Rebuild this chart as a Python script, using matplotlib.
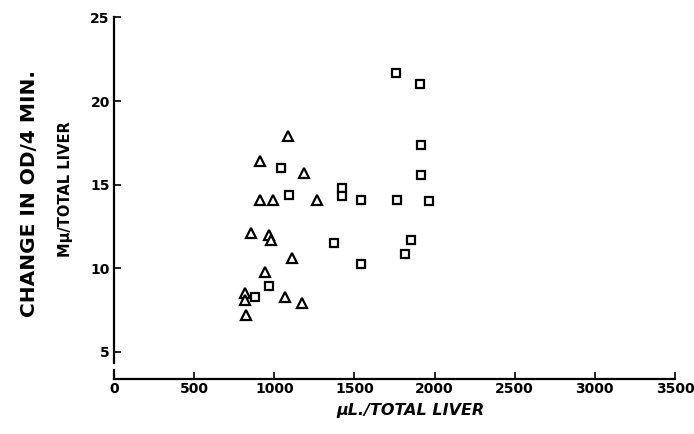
import matplotlib.pyplot as plt
import numpy as np

# triangles
tri_x = [1084, 911, 1188, 911, 990, 1269, 855, 965, 978, 1109, 942, 817, 817, 1067, 1171, 824]
tri_y = [17.9, 16.4, 15.7, 14.1, 14.1, 14.1, 12.1, 12.0, 11.7, 10.6, 9.8, 8.5, 8.1, 8.3, 7.9, 7.2]

# squares
sq_x = [1044, 1094, 1421, 1421, 1540, 1764, 1375, 1539, 969, 882, 1853, 1816, 1760, 1911, 1914, 1914, 1966]
sq_y = [16.0, 14.4, 14.8, 14.3, 14.1, 14.1, 11.5, 10.25, 8.95, 8.3, 11.7, 10.85, 21.7, 21.0, 17.4, 15.6, 14.0]

x_ticks = [0, 500, 1000, 1500, 2000, 2500, 3000, 3500]
y_ticks = [5, 10, 15, 20, 25]

fig = plt.figure(figsize=(6.94, 4.34), dpi=100)
ax = fig.add_axes([0.1643, 0.1267, 0.8083, 0.833])

ax.plot(tri_x, tri_y, linestyle='none', marker='^', ms=7.5, mfc='white',
        mec='black', mew=1.6)
ax.plot(sq_x, sq_y, linestyle='none', marker='s', ms=5.5, mfc='white',
        mec='black', mew=1.6)

ax.set_xlim(0, 3500)
ax.set_ylim(3.37, 25)

for side in ['top', 'right']:
    ax.spines[side].set_visible(False)
ax.spines['left'].set_linewidth(1.6)
ax.spines['bottom'].set_linewidth(1.6)
# broken y axis just below 5
ax.spines['left'].set_bounds(4.3, 25)
ax.plot([0, 0], [3.37, 3.9], color='black', lw=1.6, clip_on=False)

ax.set_xticks(x_ticks)
ax.set_yticks(y_ticks)
ax.tick_params(axis='both', direction='in', length=5, width=1.2, pad=3)
ax.tick_params(axis='x', pad=2)
for lab in ax.get_xticklabels() + ax.get_yticklabels():
    lab.set_fontweight('bold')
    lab.set_fontsize(10)

fig.text(0.043, 0.553, 'CHANGE IN OD/4 MIN.', rotation=90, ha='center', va='center',
         fontsize=14.5, fontweight='bold')
fig.text(0.094, 0.565, 'Mμ/TOTAL LIVER', rotation=90, ha='center', va='center',
         fontsize=10.5, fontweight='bold')
fig.text(0.592, 0.055, 'μL./TOTAL LIVER', ha='center', va='center',
         fontsize=11.5, fontstyle='italic', fontweight='bold')

fig.savefig('out.png', dpi=100)
